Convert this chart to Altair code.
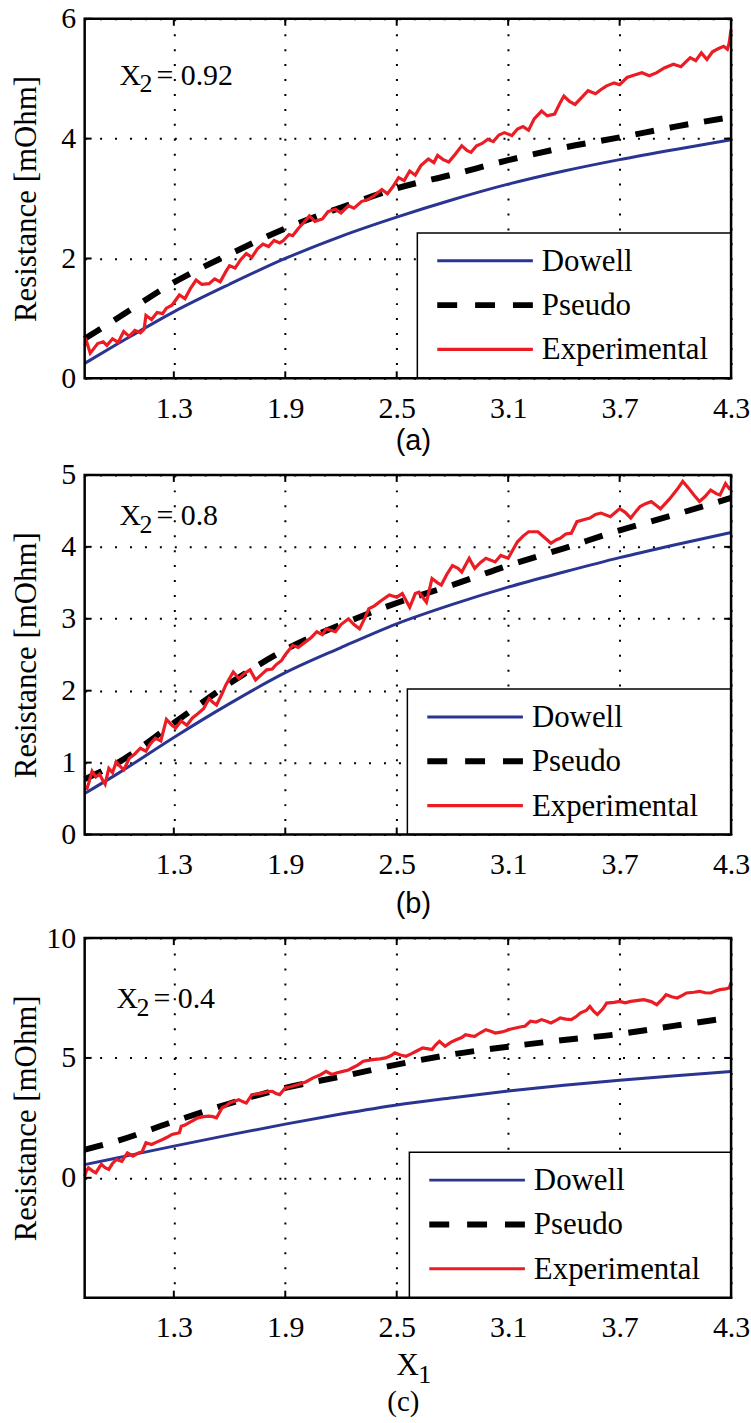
import altair as alt
import pandas as pd

SERIF = "Liberation Serif, Times New Roman, Times, DejaVu Serif, serif"
SANS = "Liberation Sans, Arial, Helvetica, sans-serif"
BLUE = "#2a3592"
RED = "#ec1c24"

X_TICKS = [1.3, 1.9, 2.5, 3.1, 3.7, 4.3]
X_DOMAIN = [0.82, 4.3]
X_MODEL = [0.82, 1.0, 1.3, 1.6, 1.9, 2.2, 2.5, 2.8, 3.1, 3.4, 3.7, 4.0, 4.3]

# ---- panel (a), X2 = 0.92
dowell_a = [0.25, 0.58, 1.11, 1.57, 2.0, 2.37, 2.69, 2.98, 3.24, 3.46, 3.65, 3.82, 3.98]
pseudo_a = [0.66, 1.01, 1.6, 2.07, 2.5, 2.85, 3.17, 3.4, 3.64, 3.85, 4.02, 4.2, 4.36]
exp_a = [(0.82, 0.55), (0.83, 0.62), (0.85, 0.42), (0.87, 0.5), (0.89, 0.58), (0.92, 0.61),
         (0.94, 0.55), (0.97, 0.66), (1.0, 0.6), (1.03, 0.78), (1.06, 0.7), (1.09, 0.8),
         (1.12, 0.76), (1.14, 0.82), (1.15, 1.05), (1.18, 0.98), (1.21, 1.1), (1.24, 1.08),
         (1.26, 1.17), (1.29, 1.22), (1.33, 1.39), (1.36, 1.33), (1.39, 1.5), (1.42, 1.64),
         (1.45, 1.57), (1.49, 1.58), (1.52, 1.66), (1.55, 1.61), (1.58, 1.78), (1.6, 1.88),
         (1.63, 1.84), (1.66, 1.98), (1.69, 2.08), (1.72, 2.02), (1.75, 2.16), (1.78, 2.24),
         (1.81, 2.2), (1.84, 2.3), (1.87, 2.26), (1.89, 2.3), (1.92, 2.4), (1.94, 2.38),
         (1.97, 2.5), (2.0, 2.6), (2.03, 2.71), (2.06, 2.62), (2.1, 2.66), (2.13, 2.78),
         (2.17, 2.82), (2.2, 2.76), (2.24, 2.88), (2.27, 2.84), (2.31, 2.95), (2.35, 2.99),
         (2.38, 3.05), (2.42, 3.15), (2.45, 3.08), (2.48, 3.2), (2.51, 3.35), (2.54, 3.3),
         (2.57, 3.46), (2.6, 3.39), (2.63, 3.55), (2.67, 3.66), (2.7, 3.6), (2.72, 3.72),
         (2.75, 3.65), (2.78, 3.61), (2.81, 3.72), (2.85, 3.88), (2.88, 3.8), (2.9, 3.77),
         (2.93, 3.88), (2.96, 3.92), (2.99, 3.99), (3.02, 3.95), (3.05, 4.06), (3.08, 4.1),
         (3.12, 4.05), (3.15, 4.16), (3.18, 4.2), (3.21, 4.14), (3.24, 4.33), (3.28, 4.46),
         (3.31, 4.38), (3.35, 4.41), (3.38, 4.6), (3.4, 4.71), (3.43, 4.62), (3.46, 4.57),
         (3.5, 4.7), (3.53, 4.8), (3.57, 4.75), (3.6, 4.82), (3.63, 4.88), (3.67, 4.93),
         (3.7, 4.9), (3.74, 5.02), (3.78, 5.06), (3.82, 5.1), (3.86, 5.05), (3.9, 5.1),
         (3.94, 5.18), (3.99, 5.24), (4.03, 5.2), (4.08, 5.35), (4.11, 5.3), (4.14, 5.43),
         (4.17, 5.32), (4.2, 5.45), (4.23, 5.5), (4.26, 5.54), (4.28, 5.49), (4.29, 5.6),
         (4.3, 5.82)]

# ---- panel (b), X2 = 0.8
dowell_b = [0.57, 0.85, 1.35, 1.82, 2.25, 2.6, 2.93, 3.2, 3.44, 3.65, 3.85, 4.03, 4.2]
pseudo_b = [0.77, 1.0, 1.55, 2.1, 2.57, 2.92, 3.22, 3.47, 3.74, 3.98, 4.23, 4.45, 4.68]
exp_b = [(0.83, 0.62), (0.84, 0.7), (0.86, 0.88), (0.88, 0.8), (0.9, 0.84), (0.92, 0.74),
         (0.93, 0.7), (0.95, 0.92), (0.97, 0.86), (0.99, 1.01), (1.01, 0.95), (1.03, 0.9),
         (1.05, 1.0), (1.06, 1.06), (1.09, 1.12), (1.12, 1.2), (1.15, 1.16), (1.17, 1.25),
         (1.2, 1.34), (1.23, 1.3), (1.26, 1.6), (1.29, 1.52), (1.31, 1.48), (1.34, 1.58),
         (1.37, 1.52), (1.4, 1.62), (1.42, 1.66), (1.46, 1.75), (1.49, 1.89), (1.51, 1.84),
         (1.53, 1.8), (1.56, 1.96), (1.58, 2.08), (1.62, 2.26), (1.65, 2.17), (1.68, 2.24),
         (1.71, 2.29), (1.74, 2.15), (1.77, 2.22), (1.8, 2.29), (1.83, 2.3), (1.85, 2.36),
         (1.88, 2.42), (1.9, 2.5), (1.94, 2.63), (1.97, 2.6), (2.01, 2.68), (2.04, 2.74),
         (2.07, 2.82), (2.1, 2.78), (2.12, 2.86), (2.17, 2.82), (2.2, 2.92), (2.24, 3.0),
         (2.27, 2.92), (2.3, 2.86), (2.33, 3.02), (2.35, 3.14), (2.38, 3.18), (2.41, 3.24),
         (2.46, 3.33), (2.5, 3.3), (2.53, 3.35), (2.57, 3.16), (2.6, 3.35), (2.62, 3.37),
         (2.64, 3.3), (2.66, 3.23), (2.69, 3.56), (2.72, 3.5), (2.74, 3.47), (2.77, 3.62),
         (2.8, 3.74), (2.83, 3.7), (2.85, 3.65), (2.89, 3.84), (2.92, 3.7), (2.95, 3.78),
         (2.98, 3.84), (3.03, 3.79), (3.06, 3.88), (3.1, 3.84), (3.13, 3.98), (3.15, 4.07),
         (3.18, 4.15), (3.21, 4.21), (3.26, 4.21), (3.3, 4.12), (3.33, 4.05), (3.36, 4.1),
         (3.38, 4.12), (3.41, 4.18), (3.44, 4.19), (3.47, 4.35), (3.51, 4.38), (3.54, 4.4),
         (3.57, 4.45), (3.6, 4.47), (3.65, 4.42), (3.7, 4.53), (3.73, 4.48), (3.76, 4.4),
         (3.79, 4.5), (3.81, 4.56), (3.84, 4.6), (3.87, 4.63), (3.92, 4.53), (3.97, 4.67),
         (4.01, 4.8), (4.04, 4.91), (4.07, 4.82), (4.1, 4.72), (4.13, 4.63), (4.16, 4.7),
         (4.19, 4.79), (4.22, 4.74), (4.24, 4.72), (4.27, 4.88), (4.29, 4.81), (4.3, 4.83)]

# ---- panel (c), X2 = 0.4
dowell_c = [0.55, 0.84, 1.32, 1.79, 2.24, 2.66, 3.04, 3.34, 3.62, 3.86, 4.07, 4.26, 4.43]
pseudo_c = [1.17, 1.55, 2.35, 3.1, 3.75, 4.22, 4.72, 5.15, 5.47, 5.75, 6.0, 6.35, 6.68]
exp_c = [(0.82, 0.07), (0.83, 0.3), (0.84, 0.42), (0.86, 0.3), (0.88, 0.21), (0.9, 0.45),
         (0.91, 0.56), (0.93, 0.42), (0.95, 0.35), (0.97, 0.6), (0.99, 0.76), (1.02, 0.69),
         (1.05, 1.04), (1.08, 0.9), (1.11, 1.04), (1.13, 1.1), (1.15, 1.46), (1.18, 1.39),
         (1.21, 1.5), (1.24, 1.6), (1.27, 1.72), (1.29, 1.81), (1.33, 1.88), (1.34, 2.15),
         (1.36, 2.2), (1.38, 2.29), (1.41, 2.42), (1.43, 2.5), (1.46, 2.55), (1.49, 2.57),
         (1.51, 2.55), (1.53, 2.5), (1.56, 2.92), (1.58, 3.0), (1.6, 3.12), (1.63, 3.2),
         (1.65, 3.26), (1.67, 3.18), (1.69, 3.12), (1.72, 3.47), (1.75, 3.5), (1.78, 3.54),
         (1.81, 3.6), (1.83, 3.61), (1.85, 3.52), (1.87, 3.47), (1.9, 3.75), (1.93, 3.8),
         (1.97, 3.89), (2.01, 4.0), (2.05, 4.17), (2.09, 4.3), (2.12, 4.44), (2.15, 4.31),
         (2.18, 4.38), (2.21, 4.44), (2.24, 4.5), (2.26, 4.58), (2.29, 4.7), (2.32, 4.86),
         (2.37, 4.93), (2.41, 4.96), (2.44, 5.0), (2.47, 5.1), (2.49, 5.21), (2.52, 5.12),
         (2.55, 5.07), (2.58, 5.18), (2.61, 5.3), (2.64, 5.42), (2.67, 5.38), (2.69, 5.35),
         (2.71, 5.55), (2.73, 5.69), (2.76, 5.49), (2.79, 5.65), (2.82, 5.76), (2.85, 5.85),
         (2.87, 5.97), (2.9, 5.92), (2.92, 5.9), (2.95, 6.05), (2.98, 6.18), (3.01, 6.1),
         (3.03, 6.04), (3.06, 6.08), (3.08, 6.11), (3.11, 6.2), (3.14, 6.25), (3.17, 6.3),
         (3.19, 6.32), (3.22, 6.53), (3.25, 6.5), (3.28, 6.6), (3.31, 6.52), (3.33, 6.46),
         (3.36, 6.58), (3.38, 6.67), (3.41, 6.62), (3.44, 6.6), (3.47, 6.75), (3.49, 6.88),
         (3.52, 6.98), (3.54, 7.15), (3.56, 6.95), (3.58, 6.81), (3.61, 7.05), (3.63, 7.29),
         (3.67, 7.32), (3.7, 7.36), (3.73, 7.3), (3.76, 7.36), (3.8, 7.4), (3.83, 7.43),
         (3.87, 7.35), (3.9, 7.22), (3.93, 7.45), (3.95, 7.64), (3.98, 7.55), (4.01, 7.5),
         (4.04, 7.62), (4.06, 7.71), (4.1, 7.74), (4.13, 7.78), (4.16, 7.72), (4.19, 7.71),
         (4.22, 7.8), (4.24, 7.85), (4.27, 7.88), (4.29, 7.92), (4.3, 8.15)]

SERIES = ["Dowell", "Pseudo", "Experimental"]

W, H = 649, 361
ONE = pd.DataFrame({"k": [0]})
DASH = [19, 16]


def txt(s, x, y, size, font=SERIF, align="left", baseline="alphabetic"):
    return alt.Chart(ONE).mark_text(text=s, font=font, fontSize=size, align=align,
                                    baseline=baseline, color="black").encode(
        x=alt.value(x), y=alt.value(y))


def panel(dow, pse, exp, ydom, yvals, x2val, ann_x, ann_base, leg_left, caption,
          cap_font, cap_x, cap_dy, x1_label=False):
    xs = alt.Scale(domain=X_DOMAIN, nice=False, zero=False)
    ys = alt.Scale(domain=ydom, nice=False, zero=False)
    model = pd.DataFrame({"x": X_MODEL, "Dowell": dow, "Pseudo": pse})
    expdf = pd.DataFrame(exp, columns=["x", "y"])

    xaxis = alt.Axis(values=X_TICKS, format=".1f", grid=True, gridDash=[2, 13],
                     gridColor="black", gridWidth=2, gridOpacity=1, domain=False,
                     ticks=False, labelFont=SERIF, labelFontSize=30, labelColor="black",
                     labelPadding=15, labelFlush=False, title=None)
    yaxis = alt.Axis(values=yvals, format="d", grid=True, gridDash=[2, 13],
                     gridColor="black", gridWidth=2, gridOpacity=1, domain=False,
                     ticks=False, labelFont=SERIF, labelFontSize=30, labelColor="black",
                     labelPadding=9, title="Resistance [mOhm]", titleFont=SERIF,
                     titleFontSize=31, titleFontWeight="normal", titleColor="black",
                     titleX=-42)

    def X(f):
        return alt.X(f, scale=xs, axis=xaxis)

    def Y(f):
        return alt.Y(f, scale=ys, axis=yaxis)

    dowell = alt.Chart(model).mark_line(color=BLUE, strokeWidth=3, interpolate="monotone").encode(
        x=X("x:Q"), y=Y("Dowell:Q"))
    pseudo = alt.Chart(model).mark_line(color="black", strokeWidth=6, strokeDash=DASH,
                                        interpolate="monotone").encode(
        x=X("x:Q"), y=Y("Pseudo:Q"))
    expl = alt.Chart(expdf).mark_line(color=RED, strokeWidth=3.2).encode(
        x=X("x:Q"), y=Y("y:Q"))

    xt = pd.DataFrame({"v": X_TICKS})
    yt = pd.DataFrame({"v": yvals})
    tk = 7
    tick_layers = [
        alt.Chart(xt).mark_rule(color="black", strokeWidth=2).encode(
            x=X("v:Q"), y=alt.value(H), y2=alt.value(H - tk)),
        alt.Chart(xt).mark_rule(color="black", strokeWidth=2).encode(
            x=X("v:Q"), y=alt.value(0), y2=alt.value(tk)),
        alt.Chart(yt).mark_rule(color="black", strokeWidth=2).encode(
            y=Y("v:Q"), x=alt.value(0), x2=alt.value(tk)),
        alt.Chart(yt).mark_rule(color="black", strokeWidth=2).encode(
            y=Y("v:Q"), x=alt.value(W - tk), x2=alt.value(W)),
    ]

    # legend (drawn by hand, like MATLAB's box)
    lt = H - 146
    leg = [alt.Chart(ONE).mark_rect(fill="white", stroke="black", strokeWidth=1.5).encode(
        x=alt.value(leg_left), x2=alt.value(W), y=alt.value(lt), y2=alt.value(H))]
    styles = [dict(color=BLUE, strokeWidth=3),
              dict(color="black", strokeWidth=6, strokeDash=[20, 18]),
              dict(color=RED, strokeWidth=3.2)]
    for i, (name, st) in enumerate(zip(SERIES, styles)):
        ry = lt + 28 + i * 44.5
        leg.append(alt.Chart(ONE).mark_rule(**st).encode(
            x=alt.value(leg_left + 20), x2=alt.value(leg_left + 116), y=alt.value(ry)))
        leg.append(txt(name, leg_left + 125, ry + 1, 31, baseline="middle"))

    ann = [
        txt("X", ann_x, ann_base, 30),
        txt("2", ann_x + 20, ann_base + 8, 26),
        txt("= " + x2val, ann_x + 37, ann_base, 30),
    ]

    extra = [txt(caption, cap_x, H + cap_dy, 29, font=cap_font, align="center",
                 baseline="middle")]
    if x1_label:
        extra += [txt("X", 313, H + 78, 31), txt("1", 335, H + 86, 26)]

    frame = alt.Chart(ONE).mark_rect(fillOpacity=0, stroke="black", strokeWidth=2.5).encode(
        x=alt.value(0), x2=alt.value(W), y=alt.value(0), y2=alt.value(H))

    return alt.layer(dowell, pseudo, expl, *tick_layers, *leg, *ann, frame, *extra).properties(
        width=W, height=H)


pa = panel(dowell_a, pseudo_a, exp_a, [0, 6], [0, 2, 4, 6], "0.92", 35, 66, 334,
           "(a)", SANS, 330, 63)
pb = panel(dowell_b, pseudo_b, exp_b, [0, 5], [0, 1, 2, 3, 4, 5], "0.8", 35, 50, 324,
           "(b)", SANS, 330, 70)
pc = panel(dowell_c, pseudo_c, exp_c, [-5, 10], [0, 5, 10], "0.4", 32, 70, 326,
           "(c)", SERIF, 320, 105, x1_label=True)

chart = alt.vconcat(pa, pb, pc, spacing=2).properties(
    padding={"left": 10, "top": 0, "right": 0, "bottom": 0}
).configure_view(stroke=None).configure(background="white")

chart.save("out.html", embed_options={"renderer": "svg", "actions": False})
